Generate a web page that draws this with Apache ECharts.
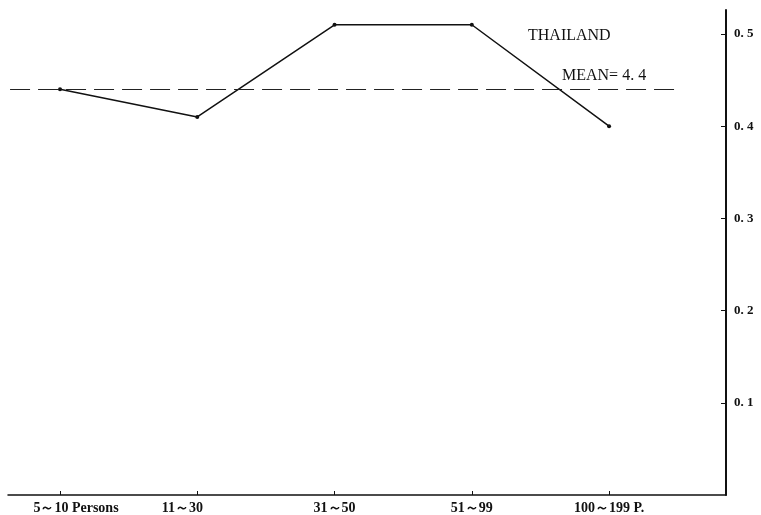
<!DOCTYPE html>
<html>
<head>
<meta charset="utf-8">
<title>Thailand</title>
<script src="https://cdn.jsdelivr.net/npm/echarts@6/dist/echarts.min.js"></script>
<style>
	html, body { margin: 0; padding: 0; background: #fff; }
	#chart { width: 761px; height: 515px; }
</style>
</head>
<body>
<div id="chart"></div>
<script>
// 数据
var categories = ['5～10 Persons', '11～30', '31～50', '51～99', '100～199 P.'];
var values = [0.44, 0.41, 0.51, 0.51, 0.40];
var yTicks = [0.1, 0.2, 0.3, 0.4, 0.5];
var meanValue = 0.44;
var meanLabel = 'MEAN= 4. 4';
var countryName = 'THAILAND';

var serif = '"Liberation Serif", "DejaVu Serif", serif';

var charts = echarts.init(document.getElementById('chart'));

var lineData = values.map(function(v, i) {
	return [i, v];
});

var option = {
	animation: false,
	backgroundColor: '#fff',
	grid: { left: 8, right: 35, top: 10, bottom: 20 },
	graphic: [
		{
			type: 'text',
			left: 528, top: 28,
			style: { text: countryName, font: '16px ' + serif, fill: '#111' }
		},
		{
			type: 'text',
			left: 562, top: 68,
			style: { text: meanLabel, font: '16px ' + serif, fill: '#111' }
		}
	],
	xAxis: {
		type: 'value',
		min: -0.379,
		max: 4.852,
		splitLine: { show: false },
		axisLine: { show: true, onZero: false, lineStyle: { color: '#111', width: 1.5 } },
		axisTick: {
			show: true, inside: true, length: 4,
			customValues: [0, 1, 2, 3, 4],
			lineStyle: { color: '#111', width: 1 }
		},
		axisLabel: {
			customValues: [0, 1, 2, 3, 4],
			margin: 6,
			color: '#111',
			fontFamily: serif,
			fontWeight: 'bold',
			fontSize: 14,
			formatter: function(v) {
				var i = Math.round(v);
				var txt = categories[i] || '';
				if (i === 0) return '{r|' + txt + '}';
				if (i === 1) return '{l|' + txt + '}';
				return txt;
			},
			rich: {
				r: { fontFamily: serif, fontWeight: 'bold', fontSize: 14, color: '#111', padding: [0, 0, 0, 32] },
				l: { fontFamily: serif, fontWeight: 'bold', fontSize: 14, color: '#111', padding: [0, 30, 0, 0] }
			}
		}
	},
	yAxis: {
		type: 'value',
		position: 'right',
		min: 0,
		max: 0.526,
		splitLine: { show: false },
		axisLine: { show: true, onZero: false, lineStyle: { color: '#111', width: 2 } },
		axisTick: {
			show: true, inside: true, length: 5,
			customValues: yTicks,
			lineStyle: { color: '#111', width: 1 }
		},
		axisLabel: {
			customValues: yTicks,
			margin: 8,
			color: '#111',
			fontFamily: serif,
			fontWeight: 'bold',
			fontSize: 13,
			formatter: function(v) {
				return v.toFixed(1).replace('.', '. ');
			}
		}
	},
	series: [{
		type: 'line',
		data: lineData,
		symbol: 'circle',
		symbolSize: 4,
		itemStyle: { color: '#111' },
		lineStyle: { color: '#111', width: 1.5 },
		markLine: {
			silent: true,
			symbol: ['none', 'none'],
			label: { show: false },
			lineStyle: { color: '#222', type: [20, 8], width: 1 },
			data: [[
				{ coord: [-0.364, meanValue] },
				{ coord: [4.495, meanValue] }
			]]
		}
	}]
};

charts.setOption(option, true);
</script>
</body>
</html>
